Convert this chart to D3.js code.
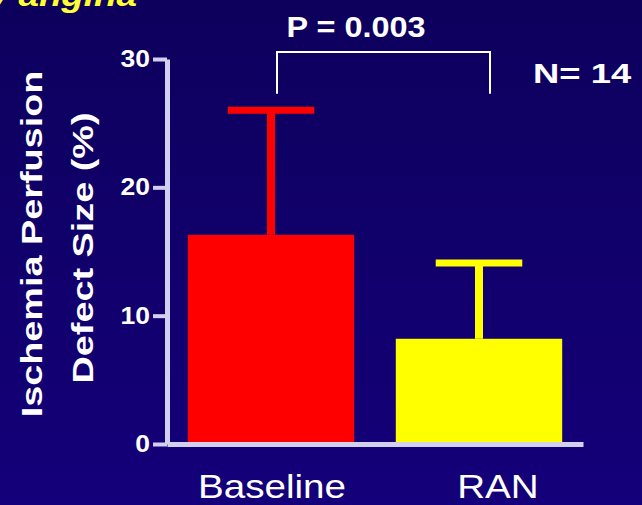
<!DOCTYPE html>
<html>
<head>
<meta charset="utf-8">
<script src="https://cdn.jsdelivr.net/npm/d3@7"></script>
<style>
  html, body { margin: 0; padding: 0; }
  body { width: 642px; height: 505px; overflow: hidden; }
  svg { display: block; }
</style>
</head>
<body>
<div id="graphicContainer"></div>
<script>
// chart values
var categories = ["Baseline", "RAN"]
var means = [16.3, 8.2]
var errors = [9.7, 5.9]
var barColors = ["#ff0000", "#ffff00"]
var yTicks = [0, 10, 20, 30]
var pLabel = "P = 0.003"
var nLabel = "N= 14"
var titleText = "Refractory angina"
var yTitleLines = ["Ischemia Perfusion", "Defect Size (%)"]

var width = 642
var height = 505
var font = "'Liberation Sans', Arial, sans-serif"
var axisColor = "#d2d0f0"

const svg = d3.select("#graphicContainer")
  .append("svg")
  .attr("width", width)
  .attr("height", height)
  .attr("viewBox", [0, 0, width, height])

var grad = svg.append("defs").append("linearGradient")
  .attr("id", "bg").attr("x1", 0).attr("y1", 0).attr("x2", 0).attr("y2", 1)
grad.append("stop").attr("offset", 0).attr("stop-color", "#0d005c")
grad.append("stop").attr("offset", 1).attr("stop-color", "#14007a")

svg.append("rect")
  .attr("width", width).attr("height", height)
  .attr("fill", "url(#bg)")

var x = d3.scaleBand()
  .domain(categories)
  .range([167, 583])
  .paddingInner(0.2)
  .paddingOuter(0.1)

var y = d3.scaleLinear()
  .domain([0, 30])
  .range([444, 59])

// stretch text a bit wider, like the source slide
function stretch(sel, k) {
  sel.each(function () {
    var len = this.getComputedTextLength()
    d3.select(this).attr("textLength", len * k).attr("lengthAdjust", "spacingAndGlyphs")
  })
}

// bars
svg.selectAll("rect.bar")
  .data(categories)
  .join("rect")
  .attr("class", "bar")
  .attr("x", d => x(d))
  .attr("y", (d, i) => y(means[i]))
  .attr("width", x.bandwidth())
  .attr("height", (d, i) => y(0) - y(means[i]))
  .attr("fill", (d, i) => barColors[i])

// error bars (upper only)
var capHalf = x.bandwidth() * 0.26
var eb = svg.selectAll("g.err")
  .data(categories)
  .join("g")
  .attr("class", "err")
  .attr("transform", d => "translate(" + (x(d) + x.bandwidth() / 2) + ",0)")

eb.append("line")
  .attr("x1", 0).attr("x2", 0)
  .attr("y1", (d, i) => y(means[i]))
  .attr("y2", (d, i) => y(means[i] + errors[i]))
  .attr("stroke", (d, i) => barColors[i])
  .attr("stroke-width", 8)

eb.append("line")
  .attr("x1", -capHalf).attr("x2", capHalf)
  .attr("y1", (d, i) => y(means[i] + errors[i]))
  .attr("y2", (d, i) => y(means[i] + errors[i]))
  .attr("stroke", (d, i) => barColors[i])
  .attr("stroke-width", 7)

// y axis
var yAxis = svg.append("g")
  .attr("transform", "translate(167,0)")
  .call(d3.axisLeft(y).tickValues(yTicks).tickSize(14).tickSizeOuter(0).tickPadding(3))

yAxis.select(".domain").attr("stroke", axisColor).attr("stroke-width", 5)
yAxis.selectAll(".tick line").attr("stroke", axisColor).attr("stroke-width", 4)
yAxis.selectAll(".tick text")
  .attr("fill", "#ffffff")
  .style("font", "bold 23px " + font)
stretch(yAxis.selectAll(".tick text"), 1.15)

// x axis
var xAxis = svg.append("g")
  .attr("transform", "translate(0,444)")
  .call(d3.axisBottom(x).tickSize(0).tickSizeOuter(0).tickPadding(31))

xAxis.select(".domain").attr("stroke", axisColor).attr("stroke-width", 5)
xAxis.selectAll(".tick text")
  .attr("fill", "#ffffff")
  .attr("dx", (d, i) => i === 1 ? 19 : 1)
  .style("font", "33px " + font)
stretch(xAxis.selectAll(".tick text"), 1.17)

// y axis title
var yTitle = svg.append("g")
yTitle.selectAll("text")
  .data(yTitleLines)
  .join("text")
  .attr("transform", (d, i) => "translate(" + (i === 0 ? 42 : 93) + "," + (i === 0 ? 244 : 248) + ") rotate(-90)")
  .attr("text-anchor", "middle")
  .attr("fill", "#ffffff")
  .style("font", "bold 30px " + font)
  .text(d => d)
stretch(yTitle.selectAll("text"), 1.26)

// significance bracket
var x0 = x(categories[0]) + x.bandwidth() / 2 + 6
var x1 = x(categories[1]) + x.bandwidth() / 2 + 11
svg.append("path")
  .attr("d", d3.line()([[x0, y(27.3)], [x0, y(30.55)], [x1, y(30.55)], [x1, y(27.3)]]))
  .attr("fill", "none")
  .attr("stroke", "#ffffff")
  .attr("stroke-width", 2)

var pText = svg.append("text")
  .attr("x", 356).attr("y", 37)
  .attr("text-anchor", "middle")
  .attr("fill", "#ffffff")
  .style("font", "bold 30px " + font)
  .text(pLabel)
stretch(pText, 1.08)

var nText = svg.append("text")
  .attr("x", 533).attr("y", 83)
  .attr("fill", "#ffffff")
  .style("font", "bold 28px " + font)
  .text(nLabel)
stretch(nText, 1.3)

// title, mostly cut off at the top of the slide
var title = svg.append("text")
  .attr("x", 137).attr("y", 6)
  .attr("text-anchor", "end")
  .attr("fill", "#ffff33")
  .style("font", "italic bold 32px " + font)
  .text(titleText)
stretch(title, 1.15)
</script>
</body>
</html>
